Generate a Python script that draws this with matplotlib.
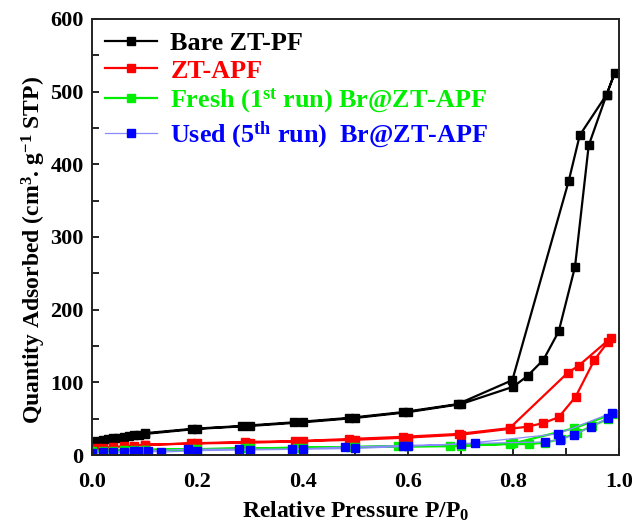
import matplotlib
matplotlib.use('Agg')
import matplotlib.pyplot as plt
from matplotlib.ticker import MultipleLocator

plt.rcParams['font.family'] = 'Liberation Serif'
plt.rcParams['font.weight'] = 'bold'
plt.rcParams['axes.labelweight'] = 'bold'
plt.rcParams['mathtext.fontset'] = 'custom'
plt.rcParams['mathtext.rm'] = 'Liberation Serif:bold'
plt.rcParams['mathtext.it'] = 'Liberation Serif:bold'
plt.rcParams['mathtext.bf'] = 'Liberation Serif:bold'

# N2 isotherms: adsorption branch then desorption branch for each sample
bare_x = [0.0, 0.01, 0.02, 0.03, 0.04, 0.05, 0.06, 0.07, 0.08, 0.09, 0.1, 0.2, 0.3, 0.4,
          0.5, 0.6, 0.7, 0.8, 0.827, 0.857, 0.886, 0.917, 0.943, 0.977, 0.992,
          0.977, 0.926, 0.905, 0.798, 0.694, 0.59, 0.487, 0.383, 0.285, 0.19, 0.1]
bare_y = [17, 19, 20, 22, 23, 24, 25, 26, 27, 28, 29, 36, 40, 45,
          51, 59, 70, 94, 109, 131, 170, 259, 426, 496, 525,
          496, 440, 377, 103, 70, 59, 51, 45, 40, 36, 30]

apf_x = [0.0, 0.01, 0.02, 0.04, 0.06, 0.08, 0.1, 0.2, 0.3, 0.4, 0.5, 0.6, 0.7,
         0.793, 0.827, 0.857, 0.886, 0.918, 0.954, 0.98, 0.985,
         0.924, 0.903, 0.793, 0.696, 0.59, 0.487, 0.386, 0.29, 0.188, 0.1]
apf_y = [8, 9, 10, 11, 12, 13, 14, 16, 17, 19, 21, 24, 28,
         36, 39, 44, 52, 80, 131, 156, 161,
         123, 113, 37, 29, 25, 22, 19, 18, 16, 14]

fresh_x = [0.0, 0.02, 0.04, 0.06, 0.08, 0.1, 0.2, 0.3, 0.4, 0.5, 0.6, 0.7,
           0.793, 0.83, 0.86, 0.89, 0.92, 0.95, 0.98, 0.99,
           0.916, 0.8, 0.68, 0.58, 0.49, 0.39, 0.29, 0.19, 0.1]
fresh_y = [5, 6, 6, 7, 7, 7, 8, 9, 10, 11, 12, 13,
           15, 15, 17, 22, 30, 40, 50, 57,
           37, 16, 12, 12, 11, 10, 9, 8, 7]

used_x = [0.0, 0.02, 0.04, 0.06, 0.08, 0.107, 0.131, 0.2, 0.3, 0.4, 0.5, 0.6,
          0.728, 0.86, 0.888, 0.916, 0.948, 0.979, 0.987,
          0.884, 0.7, 0.59, 0.48, 0.38, 0.28, 0.183, 0.087]
used_y = [3, 4, 4, 4, 5, 5, 4, 6, 7, 8, 9, 12,
          16, 18, 21, 28, 39, 51, 58,
          29, 15, 13, 11, 8, 8, 8, 5]

fig = plt.figure(figsize=(6.32, 5.23), dpi=100)
ax = fig.add_axes([0.1456, 0.13, 0.8334, 0.8337])

ax.plot(bare_x, bare_y, color='black', lw=1.6, marker='s', ms=6, label='Bare ZT-PF')
ax.plot(apf_x, apf_y, color='red', lw=1.6, marker='s', ms=6, label='ZT-APF')
ax.plot(fresh_x, fresh_y, color='#00ee00', lw=1.6, marker='s', ms=6,
        label='Fresh (1$^{st}$ run) Br@ZT-APF')
ax.plot(used_x, used_y, color='#8a8aff', lw=0.9, marker='s', ms=6,
        markerfacecolor='blue', markeredgecolor='blue',
        label='Used (5$^{th}$ run)  Br@ZT-APF')

ax.set_xlim(0, 1.0)
ax.set_ylim(0, 600)
ax.xaxis.set_major_locator(MultipleLocator(0.2))
ax.xaxis.set_minor_locator(MultipleLocator(0.1))
ax.yaxis.set_major_locator(MultipleLocator(100))
ax.yaxis.set_minor_locator(MultipleLocator(50))
ax.tick_params(which='both', direction='in', width=1.2, labelsize=16)
ax.tick_params(axis='x', pad=12)
ax.tick_params(axis='y', pad=6)
ax.tick_params(which='major', length=5)
ax.tick_params(which='minor', length=5)
for s in ax.spines.values():
    s.set_linewidth(1.4)
    s.set_color('#222222')

ax.set_xlabel('Relative Pressure P/P$_0$', fontsize=17, labelpad=6)
ax.set_ylabel('Quantity Adsorbed (cm$^3$. g$^{-1}$ STP)', fontsize=17)
ax.yaxis.set_label_coords(-0.084, 0.47)

leg = ax.legend(loc='upper left', frameon=False, fontsize=18.8, handlelength=2.0,
                handletextpad=0.5, labelspacing=0.15, borderaxespad=0.2,
                borderpad=0.3)
for text, c in zip(leg.get_texts(), ['black', 'red', '#00ee00', 'blue']):
    text.set_color(c)

fig.savefig('out.png', dpi=100)
